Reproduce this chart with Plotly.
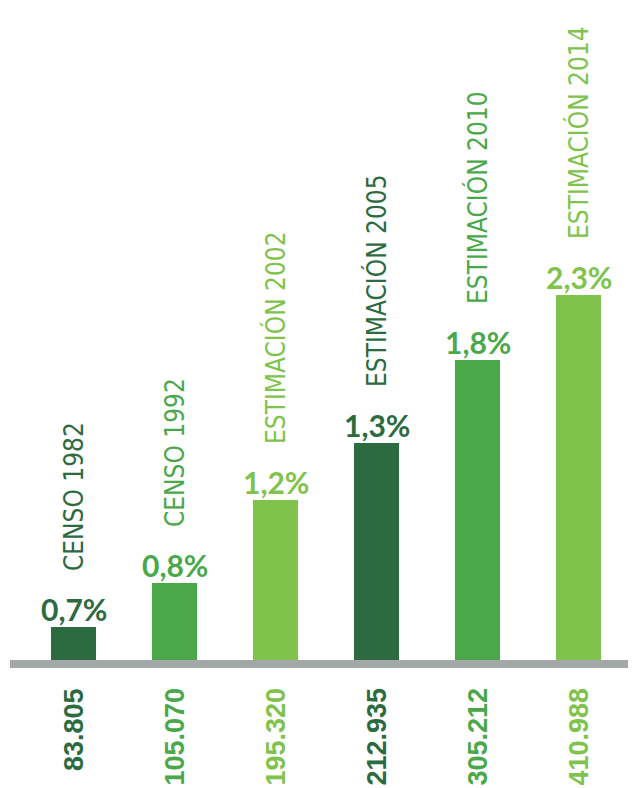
import plotly.graph_objects as go

categories = ["CENSO 1982", "CENSO 1992", "ESTIMACIÓN 2002", "ESTIMACIÓN 2005", "ESTIMACIÓN 2010", "ESTIMACIÓN 2014"]
percent_labels = ["0,7%", "0,8%", "1,2%", "1,3%", "1,8%", "2,3%"]
population_labels = ["83.805", "105.070", "195.320", "212.935", "305.212", "410.988"]
bar_values = [33, 77, 160, 217, 300, 365]
palette = ["#2C6A3F", "#4AA84A", "#80C34C", "#2C6A3F", "#4AA84A", "#80C34C"]

x = list(range(len(categories)))

fig = go.Figure()
fig.add_trace(go.Bar(
    x=x, y=bar_values, width=0.446,
    marker=dict(color=palette, line=dict(width=0)),
    hoverinfo="skip",
))

for i in x:
    fig.add_annotation(x=i, y=bar_values[i], text=percent_labels[i], showarrow=False,
                       xanchor="center", yanchor="bottom", yshift=-2,
                       font=dict(family="Lato", size=30, color=palette[i], weight="bold"))
    fig.add_annotation(x=i, y=bar_values[i], text=categories[i], showarrow=False,
                       textangle=-90, xanchor="center", yanchor="bottom", yshift=54,
                       font=dict(family="DejaVu Sans Condensed", size=26, color=palette[i]))
    fig.add_annotation(x=i, y=0, text=population_labels[i], showarrow=False,
                       textangle=-90, xanchor="center", yanchor="top", yshift=-26,
                       font=dict(family="Liberation Sans", size=27, color=palette[i], weight="bold"))

fig.add_shape(type="rect", xref="paper", yref="y", x0=2/636, x1=1, y0=-8, y1=0,
              fillcolor="#A4A7A7", line=dict(width=0), layer="below")

fig.update_layout(
    width=636, height=788,
    margin=dict(l=0, r=0, t=0, b=0),
    paper_bgcolor="white", plot_bgcolor="white",
    showlegend=False,
    xaxis=dict(range=[-0.6485, 5.6485], visible=False, fixedrange=True),
    yaxis=dict(range=[-136, 652], visible=False, fixedrange=True),
)

fig.write_html("out.html")
